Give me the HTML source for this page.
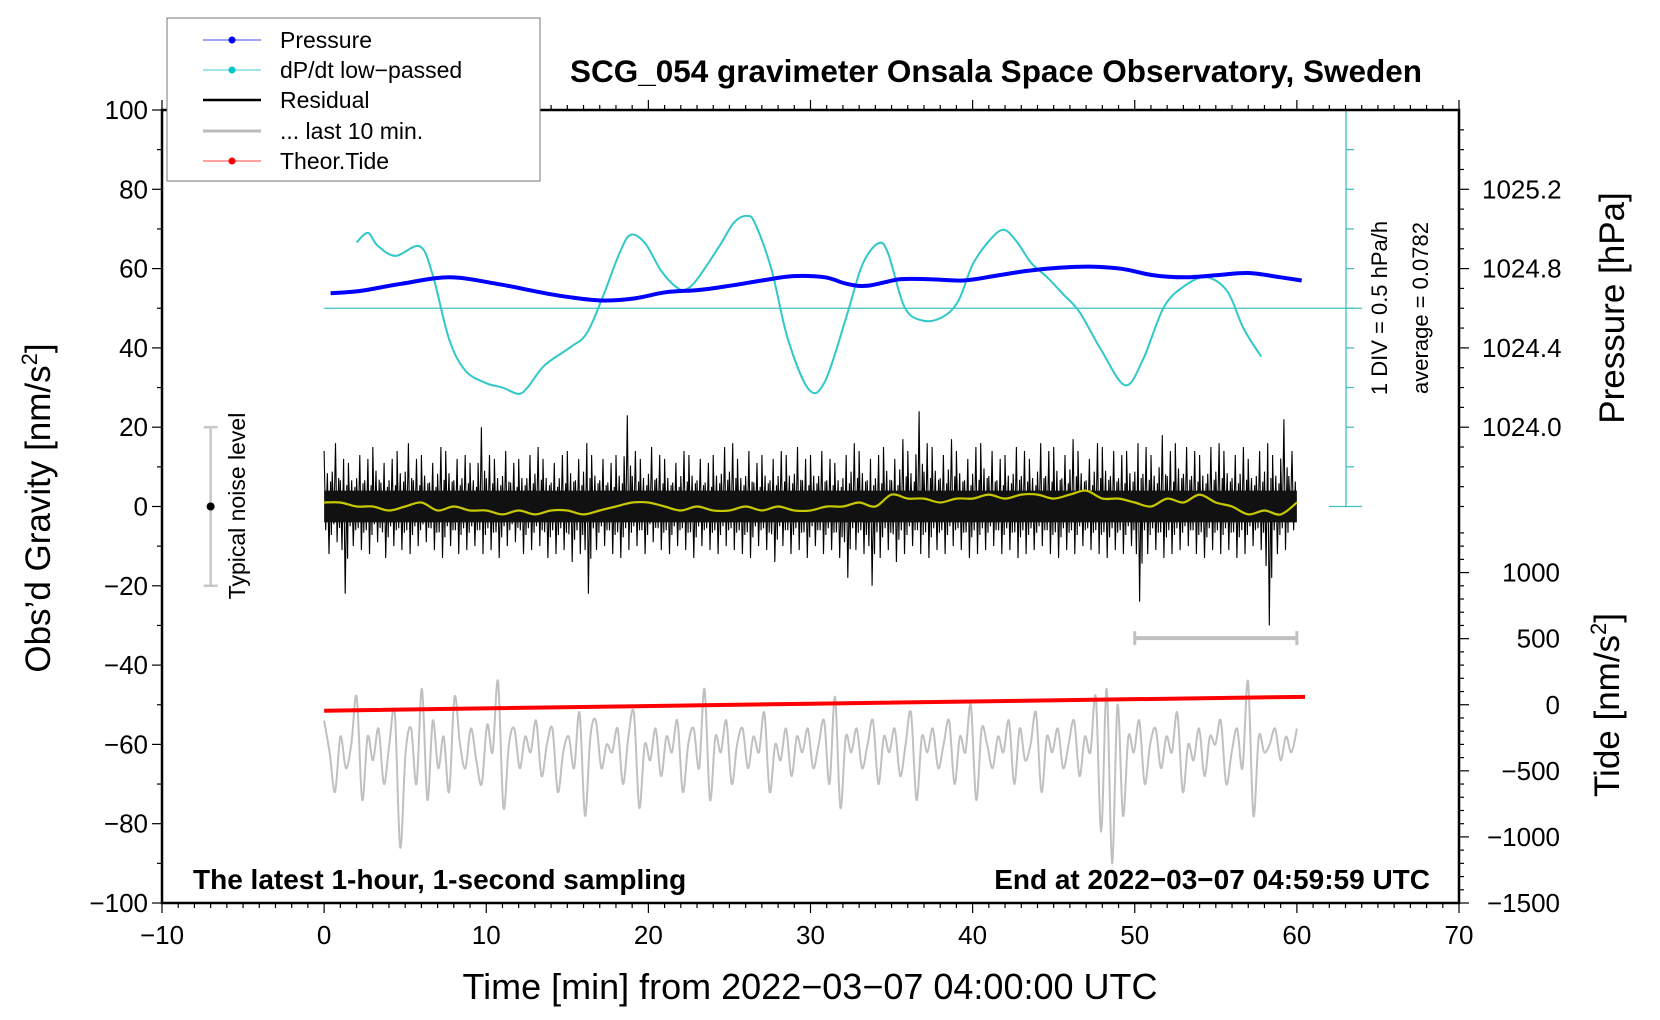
<!DOCTYPE html>
<html><head><meta charset="utf-8"><style>
html,body{margin:0;padding:0;background:#fff;}
svg{display:block;font-family:"Liberation Sans",sans-serif;}
</style></head><body>
<svg id="chart" width="1660" height="1020" viewBox="0 0 1660 1020" xmlns="http://www.w3.org/2000/svg">
<rect width="1660" height="1020" fill="#fff"/>
<g id="plot"></g>
<text x="996" y="82" font-size="31.5" font-weight="bold" text-anchor="middle">SCG_054 gravimeter Onsala Space Observatory, Sweden</text>
<text x="193" y="889" font-size="28" font-weight="bold">The latest 1-hour, 1-second sampling</text>
<text x="1430" y="889" font-size="28" font-weight="bold" text-anchor="end">End at 2022−03−07 04:59:59 UTC</text>
<text x="810" y="999" font-size="36" text-anchor="middle">Time [min] from 2022−03−07 04:00:00 UTC</text>
<text transform="translate(50,508) rotate(-90)" font-size="35" text-anchor="middle">Obs’d Gravity [nm/s<tspan font-size="22" dy="-13">2</tspan><tspan dy="13">]</tspan></text>
<text transform="translate(1624,308) rotate(-90)" font-size="35" text-anchor="middle">Pressure [hPa]</text>
<text transform="translate(1619,705) rotate(-90)" font-size="35" text-anchor="middle">Tide [nm/s<tspan font-size="22" dy="-13">2</tspan><tspan dy="13">]</tspan></text>
<text transform="translate(1387,308) rotate(-90)" font-size="22" text-anchor="middle">1 DIV = 0.5 hPa/h</text>
<text transform="translate(1428,308) rotate(-90)" font-size="22" text-anchor="middle">average = 0.0782</text>
<text transform="translate(245,506) rotate(-90)" font-size="23" text-anchor="middle">Typical noise level</text>
<g>
<rect x="167" y="18" width="373" height="163" fill="#fff" stroke="#777" stroke-width="1"/>
<g><line x1="203" y1="40" x2="261" y2="40" stroke="#4444ff" stroke-width="1"/><circle cx="232" cy="40" r="3.5" fill="#0000ff"/><text x="280" y="48" font-size="23">Pressure</text></g>
<g><line x1="203" y1="70" x2="261" y2="70" stroke="#40d0d0" stroke-width="1"/><circle cx="232" cy="70" r="3.5" fill="#00c8c8"/><text x="280" y="78" font-size="23">dP/dt low−passed</text></g>
<g><line x1="203" y1="100" x2="261" y2="100" stroke="#000" stroke-width="2.5"/><text x="280" y="108" font-size="23">Residual</text></g>
<g><line x1="203" y1="131" x2="261" y2="131" stroke="#bbb" stroke-width="3"/><text x="280" y="139" font-size="23">... last 10 min.</text></g>
<g><line x1="203" y1="161" x2="261" y2="161" stroke="#ff4040" stroke-width="1"/><circle cx="232" cy="161" r="3.5" fill="#ff0000"/><text x="280" y="169" font-size="23">Theor.Tide</text></g>
</g>
</svg>
<script>
const cyanMin=[2.0,2.7,3.3,4.4,5.9,6.7,7.7,8.7,10.0,11.0,12.0,12.6,13.6,15.2,16.2,17.2,18.2,18.9,19.8,20.8,21.8,22.4,23.1,24.4,25.3,26.1,26.6,27.6,28.6,29.9,30.9,32.2,33.2,34.2,34.8,35.8,36.9,38.1,39.1,40.0,41.0,41.9,42.7,43.6,44.6,45.6,46.6,47.9,49.4,50.5,51.8,53.1,54.4,55.7,56.7,57.8];
const cyanVal=[66.6,69.0,65.8,63.2,65.6,58.4,42.3,34.3,31.1,30.0,28.4,30.3,35.6,40.2,43.7,53.0,63.7,68.5,66.4,59.4,55.1,54.9,57.8,65.8,71.7,73.3,71.2,59.7,42.3,29.5,31.6,47.7,61.0,66.4,63.7,50.3,46.9,47.7,51.7,61.0,66.9,69.8,66.9,61.5,57.8,53.5,49.0,39.7,30.6,37.0,50.3,55.7,57.8,54.3,45.0,37.8];
const presMin=[0.4,2.2,4.8,7.7,10.6,13.3,15.2,17.2,19.1,21.1,23.1,25.0,27.0,28.9,30.9,32.2,33.5,35.5,37.4,39.4,41.3,43.3,45.3,47.2,49.2,51.1,53.1,55.1,57.0,59.0,60.3];
const presHpa=[1024.676,1024.687,1024.724,1024.756,1024.724,1024.681,1024.655,1024.639,1024.649,1024.681,1024.692,1024.713,1024.740,1024.762,1024.756,1024.724,1024.713,1024.746,1024.746,1024.740,1024.762,1024.788,1024.804,1024.810,1024.799,1024.767,1024.756,1024.767,1024.778,1024.756,1024.740];
const resHi=[14,16,12,11,13,12,15,11,12,14,16,12,13,11,15,14,12,13,11,20,13,12,14,11,12,13,15,12,11,13,14,12,16,13,12,11,13,23,14,12,15,13,12,11,14,13,12,11,13,15,16,12,14,11,13,12,14,13,15,12,13,14,12,11,13,16,14,12,13,15,12,17,14,24,16,15,13,17,14,12,15,16,14,12,13,15,14,12,16,14,15,13,17,14,12,16,15,14,13,14,16,15,13,18,14,16,15,14,13,15,16,14,13,15,12,14,16,13,22,14];
const resLo=[-12,-9,-22,-10,-11,-12,-9,-13,-10,-11,-12,-10,-9,-11,-13,-10,-12,-11,-10,-12,-11,-13,-10,-9,-12,-11,-10,-13,-12,-11,-14,-12,-22,-11,-10,-12,-13,-11,-10,-12,-9,-11,-12,-10,-11,-13,-10,-11,-12,-10,-11,-12,-13,-10,-11,-14,-10,-12,-11,-13,-10,-12,-11,-13,-18,-11,-12,-20,-13,-11,-14,-12,-10,-12,-13,-11,-12,-10,-11,-13,-12,-11,-10,-12,-11,-13,-12,-11,-10,-12,-13,-11,-12,-10,-11,-12,-13,-11,-12,-10,-24,-12,-11,-13,-12,-11,-10,-12,-13,-11,-12,-11,-13,-12,-10,-11,-30,-12,-11,-6];
const smoothVal=[1,1,0,0,-1,0,1,-1,0,-1,-1,-2,-1,-2,-1,-1,-2,-1,0,1,1,0,-1,0,-1,-1,0,-1,0,-1,-1,0,0,1,0,3,2,2,1,2,2,3,2,3,3,2,3,4,2,2,1,0,2,1,3,1,0,-2,-1,-2,1];
const last10Val=[-54,-62,-72,-58,-66,-60,-48,-74,-58,-64,-56,-70,-60,-52,-86,-62,-56,-70,-46,-74,-54,-66,-58,-72,-48,-60,-66,-56,-64,-70,-55,-62,-44,-76,-60,-56,-66,-58,-62,-54,-68,-60,-56,-72,-62,-58,-66,-52,-78,-58,-54,-66,-60,-62,-56,-70,-58,-52,-76,-60,-64,-56,-68,-58,-62,-54,-72,-60,-56,-66,-46,-74,-58,-62,-54,-70,-60,-56,-66,-58,-62,-52,-72,-60,-64,-56,-68,-58,-62,-56,-66,-60,-54,-70,-48,-76,-58,-62,-56,-66,-60,-54,-70,-58,-62,-56,-68,-60,-52,-74,-58,-62,-56,-66,-60,-54,-70,-58,-62,-50,-74,-56,-60,-66,-58,-62,-54,-70,-56,-64,-60,-52,-72,-58,-62,-56,-66,-60,-54,-68,-58,-62,-48,-82,-46,-90,-50,-78,-58,-62,-54,-70,-60,-56,-66,-58,-62,-52,-72,-60,-64,-56,-68,-58,-60,-54,-70,-62,-56,-66,-44,-78,-58,-62,-60,-56,-64,-58,-62,-56];
const tideMin=[0,30,60.5];
const tideVal=[-45,8,60];
const xTicks=[-10,0,10,20,30,40,50,60,70];
const yTicks=[100,80,60,40,20,0,-20,-40,-60,-80,-100];
const presTicks=[1024.0,1024.4,1024.8,1025.2];
const tideTicks=[-1500,-1000,-500,0,500,1000];

const NS='http://www.w3.org/2000/svg';
const plot=document.getElementById('plot');
const L=162,R=1459,T=110,B=903;
function X(m){return L+(m+10)*(R-L)/80;}
function Y(v){return T+(100-v)*(B-T)/200;}
function PY(p){return Y(80-(1025.2-p)*50);}
function TY(t){return Y(-100+(t+1500)/30);}
function mk(tag,attrs,parent){const e=document.createElementNS(NS,tag);for(const k in attrs)e.setAttribute(k,attrs[k]);(parent||plot).appendChild(e);return e;}
function smoothPath(pts){let d='M'+pts[0][0].toFixed(1)+','+pts[0][1].toFixed(1);for(let i=0;i<pts.length-1;i++){const p0=pts[Math.max(0,i-1)],p1=pts[i],p2=pts[i+1],p3=pts[Math.min(pts.length-1,i+2)];const c1=[p1[0]+(p2[0]-p0[0])/6,p1[1]+(p2[1]-p0[1])/6],c2=[p2[0]-(p3[0]-p1[0])/6,p2[1]-(p3[1]-p1[1])/6];d+='C'+c1[0].toFixed(1)+','+c1[1].toFixed(1)+' '+c2[0].toFixed(1)+','+c2[1].toFixed(1)+' '+p2[0].toFixed(1)+','+p2[1].toFixed(1);}return d;}

for(let m=-10;m<=70;m++){const major=m%10===0;const len=major?10:5;
 let t=mk('line',{x1:X(m),x2:X(m),y1:B,y2:B+len,stroke:'#000','stroke-width':1.2});
 
 let t2=mk('line',{x1:X(m),x2:X(m),y1:T,y2:T-len,stroke:'#000','stroke-width':1.2});
 }
xTicks.forEach(m=>{const e=mk('text',{x:X(m),y:B+41,'font-size':26,'text-anchor':'middle'});e.textContent=String(m).replace('-','−');
 });
for(let v=-100;v<=100;v+=10){const len=v%20===0?10:5;const e=mk('line',{x1:L,x2:L-len,y1:Y(v),y2:Y(v),stroke:'#000','stroke-width':1.2});
 }
yTicks.forEach(v=>{const e=mk('text',{x:L-14,y:Y(v)+9,'font-size':26,'text-anchor':'end'});e.textContent=String(v).replace('-','−');
 });
for(let i=0;i<=19;i++){const p=1023.6+i*0.1;const major=presTicks.some(q=>Math.abs(q-p)<1e-6);const y=PY(p);if(y<T)continue;
 const e=mk('line',{x1:R,x2:R+(major?10:5),y1:y,y2:y,stroke:'#000','stroke-width':1.2});
 }
presTicks.forEach(p=>{const e=mk('text',{x:R+23,y:PY(p)+9,'font-size':26});e.textContent=p.toFixed(1);
 });
for(let t=-1500;t<=1300;t+=100){const major=t%500===0&&t<=1000;const e=mk('line',{x1:R,x2:R+(major?10:5),y1:TY(t),y2:TY(t),stroke:'#000','stroke-width':1.2});
 }
tideTicks.forEach(t=>{const e=mk('text',{x:1560,y:TY(t)+9,'font-size':26,'text-anchor':'end'});e.textContent=String(t).replace('-','−');
 });

let cs=mk('g',{});
mk('line',{x1:X(0),x2:1362,y1:Y(50),y2:Y(50),stroke:'#40c0c0','stroke-width':1.3},cs);
mk('line',{x1:1346,x2:1346,y1:Y(100),y2:Y(0),stroke:'#40c0c0','stroke-width':1.3},cs);
for(let v=0;v<=100;v+=10){const cap=(v===0||v===100);mk('line',{x1:cap?1329:1346,x2:cap?1362:1354,y1:Y(v),y2:Y(v),stroke:'#40c0c0','stroke-width':1.3},cs);}

let nb=mk('g',{});
mk('line',{x1:X(-7),x2:X(-7),y1:Y(20),y2:Y(-20),stroke:'#c8c8c8','stroke-width':2.5},nb);
mk('line',{x1:X(-7)-7,x2:X(-7)+7,y1:Y(20),y2:Y(20),stroke:'#c8c8c8','stroke-width':2.5},nb);
mk('line',{x1:X(-7)-7,x2:X(-7)+7,y1:Y(-20),y2:Y(-20),stroke:'#c8c8c8','stroke-width':2.5},nb);
mk('circle',{cx:X(-7),cy:Y(0),r:4,fill:'#000'},nb);

let lb=mk('g',{});
mk('line',{x1:X(50),x2:X(60),y1:Y(-33.2),y2:Y(-33.2),stroke:'#c0c0c0','stroke-width':4},lb);
mk('line',{x1:X(50),x2:X(50),y1:Y(-33.2)-7,y2:Y(-33.2)+7,stroke:'#c0c0c0','stroke-width':3},lb);
mk('line',{x1:X(60),x2:X(60),y1:Y(-33.2)-7,y2:Y(-33.2)+7,stroke:'#c0c0c0','stroke-width':3},lb);

let gp=last10Val.map((v,i)=>[X(i*60/(last10Val.length-1)),Y(v)]);
let g=mk('path',{d:smoothPath(gp),fill:'none',stroke:'#c0c0c0','stroke-width':2});


let td=mk('path',{d:'M'+tideMin.map((m,i)=>X(m)+','+TY(tideVal[i])).join('L'),fill:'none',stroke:'#ff0000','stroke-width':4});


// residual: each bin drawn as a jagged set of strokes between its low and high
let rp=[];const n=resHi.length;const fr4=[[0,'h',1],[0.25,'l',0.55],[0.5,'h',0.6],[0.75,'l',1]];
for(let i=0;i<n;i++){const m0=i*60/n;const w=60/n;
 const hi=resHi[i],lo=resLo[i];const j=i%3;
 rp.push([X(m0),Y(hi*(j===0?1:0.55))]);
 rp.push([X(m0+w*0.2),Y(lo*0.5)]);
 rp.push([X(m0+w*0.4),Y(hi*(j===0?0.6:1))]);
 rp.push([X(m0+w*0.6),Y(lo)]);
 rp.push([X(m0+w*0.8),Y(hi*0.45)]);
 rp.push([X(m0+w*0.9),Y(lo*0.6)]);}
let rs=mk('path',{d:'M'+rp.map(p=>p[0].toFixed(1)+','+p[1].toFixed(1)).join('L'),fill:'none',stroke:'#000','stroke-width':1.1});

let band=mk('rect',{x:X(0),y:Y(4),width:X(60)-X(0),height:Y(-4)-Y(4),fill:'#111'});

let sm=mk('path',{d:smoothPath(smoothVal.map((v,i)=>[X(i),Y(v)])),fill:'none',stroke:'#c8c800','stroke-width':2.2});


let cp=cyanMin.map((m,i)=>[X(m),Y(cyanVal[i])]);
let cy=mk('path',{d:smoothPath(cp),fill:'none',stroke:'#30c8c8','stroke-width':2});


let pp=presMin.map((m,i)=>[X(m),PY(presHpa[i])]);
let pr=mk('path',{d:smoothPath(pp),fill:'none',stroke:'#0000ff','stroke-width':4});


let fr=mk('rect',{x:L,y:T,width:R-L,height:B-T,fill:'none',stroke:'#000','stroke-width':2.5});

</script>
</body></html>
